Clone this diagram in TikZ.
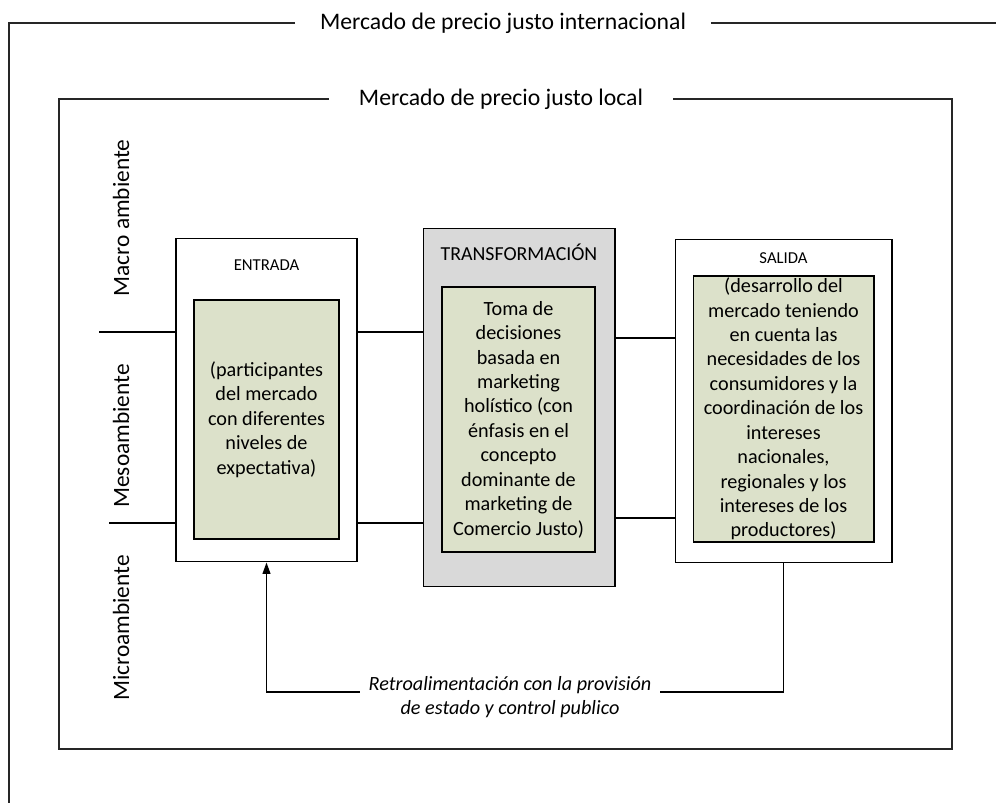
\documentclass[tikz,border=0pt]{standalone}
\usepackage{fontspec}
\setmainfont{Carlito}
\usetikzlibrary{arrows.meta,positioning}
\definecolor{boxgreen}{HTML}{DCE1CA}
\definecolor{boxgray}{HTML}{D9D9D9}

\begin{document}
\begin{tikzpicture}[
  x=0.02cm, y=-0.02cm,
  frame/.style={draw=black!85, line width=0.6pt},
  title/.style={inner xsep=14pt, inner ysep=2pt, font=\fontsize{13.5}{16}\selectfont},
  stage/.style={draw, line width=0.6pt, fill=white, inner sep=0pt},
  core/.style={draw, line width=0.6pt, fill=boxgreen, inner sep=0pt, align=center,
               font=\fontsize{11.5}{13.9}\selectfont},
  level/.style={rotate=90, font=\fontsize{13.3}{16}\selectfont},
  link/.style={line width=1.1pt},
  arr/.style={-{Triangle[length=6.5pt,width=4.5pt]}, line width=0.7pt}
]
  \useasboundingbox (0,0) rectangle (996,803);

  % outer and inner market frames
  \node[title] (outerT) at (503,23) {Mercado de precio justo internacional};
  \draw[frame] (outerT.west) -- (9,23) -- (9,803);
  \draw[frame] (outerT.east) -- (996,23);

  \node[title, inner xsep=17pt] (localT) at (501,99) {Mercado de precio justo local};
  \draw[frame] (localT.west) -- (59,99) -- (59,749) -- (952,749) -- (952,99) -- (localT.east);

  % environment levels
  \node[level] (macro) at (121,218) {Macro ambiente};
  \node[level] (meso) at (121,436) {Mesoambiente};
  \node[level] (micro) at (121,628) {Microambiente};

  % stages
  \node[stage, minimum width=3.62cm, minimum height=6.48cm] (entrada) at (266.5,400) {};
  \node[font=\fontsize{9.5}{11}\selectfont] (entradaT) at (266.5,265) {ENTRADA};
  \node[core, minimum width=2.9cm, minimum height=4.78cm] (entradaIn) at (266.5,419.5)
    {(participantes\\del mercado\\con diferentes\\niveles de\\expectativa)};

  \node[stage, fill=boxgray, minimum width=3.84cm, minimum height=7.18cm] (transf) at (519,407.5) {};
  \node[font=\fontsize{11.3}{13}\selectfont] (transfT) at (519,252) {TRANSFORMACIÓN};
  \node[core, minimum width=3.06cm, minimum height=5.3cm] (transfIn) at (518.5,419.5)
    {Toma de\\decisiones\\basada en\\marketing\\holístico (con\\énfasis en el\\concepto\\dominante de\\marketing de\\Comercio Justo)};

  \node[stage, minimum width=4.34cm, minimum height=6.48cm] (salida) at (783.5,401) {};
  \node[font=\fontsize{9.5}{11}\selectfont] (salidaT) at (783.5,258) {SALIDA};
  \node[core, minimum width=3.62cm, minimum height=5.32cm] (salidaIn) at (783.5,409)
    {(desarrollo del\\mercado teniendo\\en cuenta las\\necesidades de los\\consumidores y la\\coordinación de los\\intereses\\nacionales,\\regionales y los\\intereses de los\\productores)};

  % level dividers and links
  \coordinate (tickA) at (99,332);
  \coordinate (tickB) at (109,523);
  \coordinate (rowC) at (0,338);
  \coordinate (rowD) at (0,518);
  \draw[link] (tickA) -- (entrada.west |- tickA);
  \draw[link] (tickB) -- (entrada.west |- tickB);
  \draw[link] (entrada.east |- tickA) -- (transf.west |- tickA);
  \draw[link] (entrada.east |- tickB) -- (transf.west |- tickB);
  \draw[link] (transf.east |- rowC) -- (salida.west |- rowC);
  \draw[link] (transf.east |- rowD) -- (salida.west |- rowD);

  % feedback
  \node[font=\itshape\fontsize{11.5}{13.9}\selectfont, align=center, inner xsep=5pt] (fb) at (510,697)
    {Retroalimentación con la provisión\\de estado y control publico};
  \coordinate (fbY) at (0,692);
  \draw[arr] (fb.west |- fbY) -| (entrada.south);
  \draw[frame, line width=0.7pt, draw=black] (salida.south) |- (fb.east |- fbY);
\end{tikzpicture}
\end{document}
